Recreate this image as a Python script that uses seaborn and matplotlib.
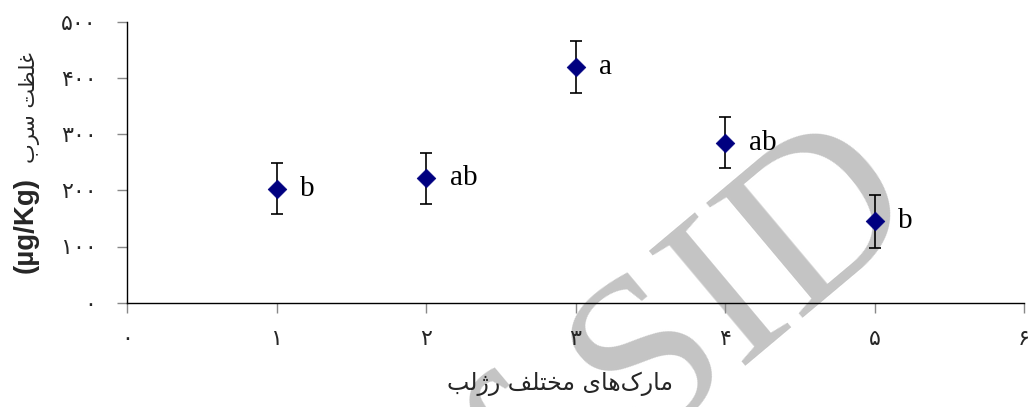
import numpy as np
import pandas as pd
import matplotlib
matplotlib.use("Agg")
import matplotlib.pyplot as plt
import seaborn as sns

# data
brands = [1, 2, 3, 4, 5]
lead_conc = [203, 221, 419, 285, 145]
lead_err = [46, 46, 46, 46, 47]
groups = ["b", "ab", "a", "ab", "b"]

x_ticks = [0, 1, 2, 3, 4, 5, 6]
x_ticklabels = ["۰", "۱", "۲", "۳", "۴", "۵", "۶"]
y_ticks = [0, 100, 200, 300, 400, 500]
y_ticklabels = ["۰", "۱۰۰", "۲۰۰", "۳۰۰", "۴۰۰", "۵۰۰"]

# Persian labels written in presentation forms, visual (left-to-right) order
ylabel_fa = "\uFE8F\uFEAE\uFEB3 \uFE96\uFEC8\uFEE0\uFECF"   # غلظت سرب
ylabel_unit = "(µg/Kg)"
xlabel_fa = ("\uFE90\uFEDF\uFB8A\uFEAD \uFED2\uFEE0\uFE98\uFEA8\uFEE3 "
             "\uFBFC\uFE8E\uFEEB\uFB8E\uFEAD\uFE8E\uFEE3")      # مارک‌های مختلف رژلب

df = pd.DataFrame({"brand": brands, "lead": lead_conc, "err": lead_err, "group": groups})

sns.set_style("white")
plt.rcParams["font.family"] = ["DejaVu Sans"]

fig = plt.figure(figsize=(10.28, 4.07), dpi=100)
ax = fig.add_axes([127 / 1028, 1 - 302.7 / 407, (1024 - 127) / 1028, (302.7 - 21.7) / 407])

ax.errorbar(df["brand"], df["lead"], yerr=df["err"], fmt="none", ecolor="black",
            elinewidth=1.2, capsize=4.5, capthick=1.2, zorder=3)
sns.scatterplot(data=df, x="brand", y="lead", marker="D", s=90, color="#000080",
                edgecolor="#000080", linewidth=0.5, zorder=4, ax=ax, legend=False)

for _, row in df.iterrows():
    ax.text(row["brand"] + 0.16, row["lead"], row["group"], ha="left", va="center",
            fontsize=21, family=["Liberation Serif", "DejaVu Serif"], color="black")

ax.set_xlim(0, 6)
ax.set_ylim(0, 500)
ax.set_xticks(x_ticks)
ax.set_xticklabels(x_ticklabels, fontsize=16)
ax.set_yticks(y_ticks)
ax.set_yticklabels(y_ticklabels, fontsize=16)
ax.set_xlabel("")
ax.set_ylabel("")

sns.despine(ax=ax)
for side in ["left", "bottom"]:
    ax.spines[side].set_color("black")
    ax.spines[side].set_linewidth(1.0)
ax.tick_params(axis="y", direction="out", length=7, width=1, color="#888888", pad=15, left=True)
ax.tick_params(axis="x", direction="out", length=7, width=1, color="#888888", pad=12, bottom=True)

# axis titles
fig.text(560 / 1028, 1 - 384 / 407, xlabel_fa, ha="center", va="center", fontsize=17)
fig.text(26 / 1028, 1 - 225 / 407, ylabel_unit, ha="center", va="center", rotation=90,
         fontsize=20, fontweight="bold", family=["Liberation Sans", "DejaVu Sans"])
fig.text(30 / 1028, 1 - 108 / 407, ylabel_fa, ha="center", va="center", rotation=90,
         fontsize=15)

# watermark
ax.text(925 / 1028, 1 - 215 / 407, "Archive of SID", transform=fig.transFigure,
        ha="right", va="baseline", rotation=40, rotation_mode="anchor",
        fontsize=165, family=["Liberation Serif", "DejaVu Serif"], color="#c4c4c4",
        zorder=0.5, clip_on=False)

fig.savefig("out.png", dpi=100)
